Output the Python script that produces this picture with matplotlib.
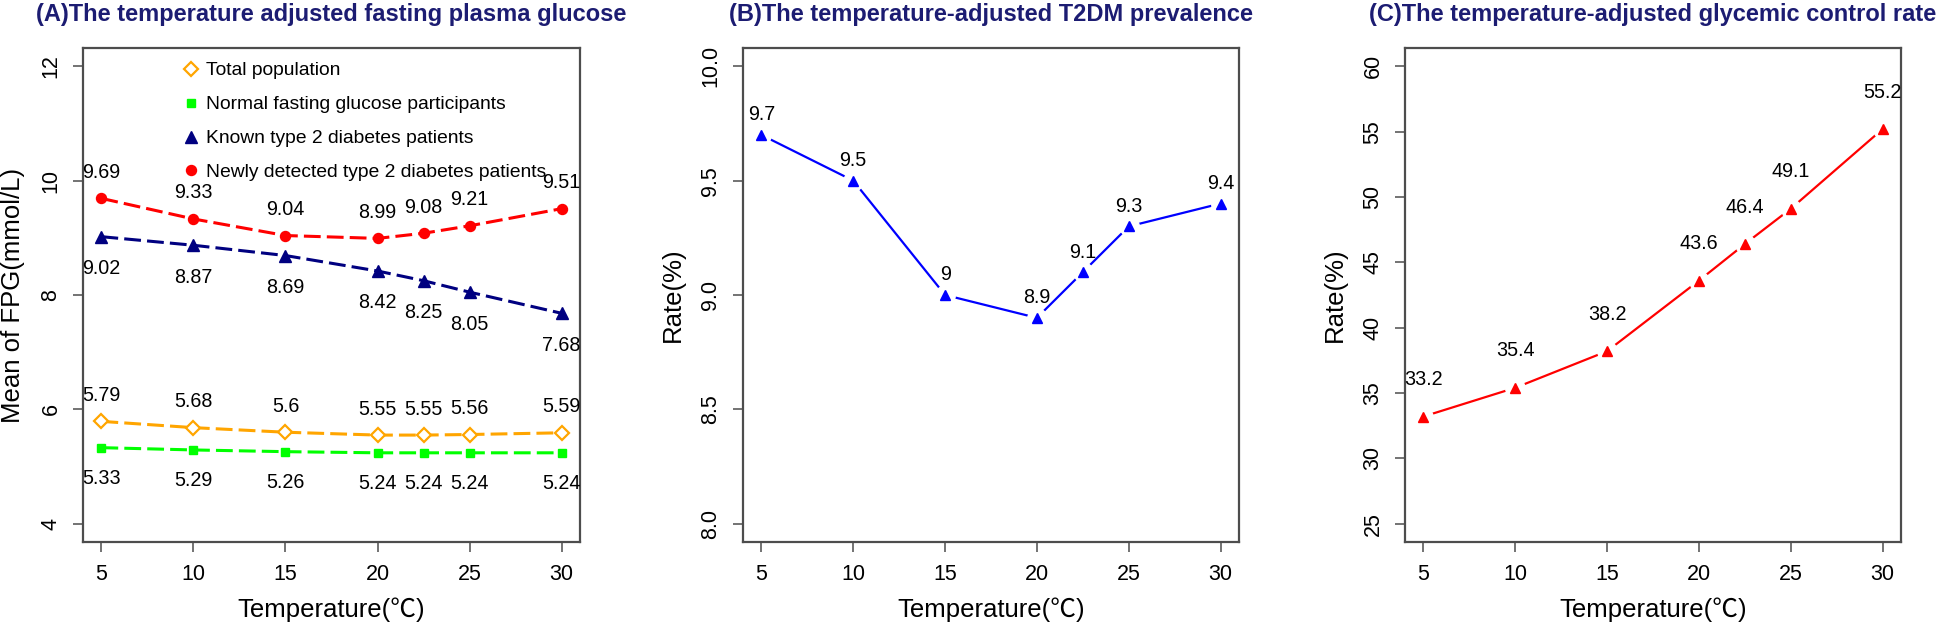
import matplotlib
matplotlib.use("Agg")
import matplotlib.pyplot as plt
from matplotlib.lines import Line2D

plt.rcParams['font.family'] = ['Liberation Sans', 'DejaVu Sans']

# ---------------- data ----------------
temps = [5, 10, 15, 20, 22.5, 25, 30]
total_pop = [5.79, 5.68, 5.6, 5.55, 5.55, 5.56, 5.59]
normal_fg = [5.33, 5.29, 5.26, 5.24, 5.24, 5.24, 5.24]
known_t2d = [9.02, 8.87, 8.69, 8.42, 8.25, 8.05, 7.68]
newly_t2d = [9.69, 9.33, 9.04, 8.99, 9.08, 9.21, 9.51]
prevalence = [9.7, 9.5, 9.0, 8.9, 9.1, 9.3, 9.4]
prevalence_labels = ["9.7", "9.5", "9", "8.9", "9.1", "9.3", "9.4"]
control_rate = [33.2, 35.4, 38.2, 43.6, 46.4, 49.1, 55.2]
control_labels = ["33.2", "35.4", "38.2", "43.6", "46.4", "49.1", "55.2"]

xticks = [5, 10, 15, 20, 25, 30]
yticks_a = [4, 6, 8, 10, 12]
yticks_b = [8.0, 8.5, 9.0, 9.5, 10.0]
yticks_c = [25, 30, 35, 40, 45, 50, 55, 60]

titles = ["(A)The temperature adjusted fasting plasma glucose",
          "(B)The temperature-adjusted T2DM prevalence",
          "(C)The temperature-adjusted glycemic control rate"]
legend_labels = ["Total population", "Normal fasting glucose participants",
                 "Known type 2 diabetes patients", "Newly detected type 2 diabetes patients"]

# ---------------- figure ----------------
W, H = 1946, 625
fig = plt.figure(figsize=(W / 100, H / 100), dpi=100)

def px_axes(left, top, right, bottom):
    return fig.add_axes([left / W, 1 - bottom / H, (right - left) / W, (bottom - top) / H])

axA = px_axes(83, 48, 580, 542)
axB = px_axes(743, 48, 1239, 542)
axC = px_axes(1405, 48, 1901, 542)

TITLE_COL = "#1c1c72"
SPINE_COL = "#4d4d4d"

def style(ax, ylabel, yticks, ylim, yfmt=None):
    ax.set_xlim(4, 31)
    ax.set_ylim(*ylim)
    ax.set_xticks(xticks)
    ax.set_yticks(yticks)
    if yfmt:
        ax.set_yticklabels([yfmt.format(v) for v in yticks])
    for s in ax.spines.values():
        s.set_color(SPINE_COL)
        s.set_linewidth(1.6)
    ax.tick_params(axis='both', direction='out', length=7.5, width=1.1,
                   color=SPINE_COL, labelsize=15.5, pad=8)
    for lab in ax.get_yticklabels():
        lab.set_rotation(90)
        lab.set_va('center')
    ax.set_xlabel("Temperature(℃)", fontsize=18.5,
                  fontfamily=['Liberation Sans', 'Noto Sans CJK SC'])
    ax.set_ylabel(ylabel, fontsize=18.5)
    ax.xaxis.set_label_coords(0.5, -0.137)
    ax.yaxis.set_label_coords(-0.141, 0.5)
    ax.xaxis.label.set_va('center')
    ax.yaxis.label.set_va('center')

# ---------------- panel A ----------------
lw_a = 2.2
series = [
    (total_pop, "#FFA500", "D", dict(mfc="white", mec="#FFA500", mew=1.6, ms=6.8), 26),
    (normal_fg, "#00FF00", "s", dict(mfc="#00FF00", mec="#00FF00", ms=6.3), -31),
    (known_t2d, "#000080", "^", dict(mfc="#000080", mec="#000080", ms=8), -32),
    (newly_t2d, "#FF0000", "o", dict(mfc="#FF0000", mec="#FF0000", ms=7.2), 26),
]
for vals, col, mk, mkw, off in series:
    axA.plot(temps, vals, color=col, lw=lw_a, ls=(0, (5.5, 2)), marker=mk, zorder=3, **mkw)
    for x, v in zip(temps, vals):
        axA.annotate(f"{v:g}", (x, v), xytext=(0, off), textcoords='offset pixels',
                     ha='center', va='center', fontsize=14.2, color='black',
                     annotation_clip=False, clip_on=True, zorder=5)

style(axA, "Mean of FPG(mmol/L)", yticks_a, (3.68, 12.32))

handles = []
for vals, col, mk, mkw, off in series:
    handles.append(Line2D([], [], ls='none', marker=mk, color=col, **mkw))
axA.legend(handles, legend_labels, loc='upper left', bbox_to_anchor=(0.170, 1.0),
           frameon=False, fontsize=13.9, handlelength=1.0, handletextpad=0.3,
           labelspacing=0.85, borderpad=0.72, borderaxespad=0.0)

# ---------------- panel B ----------------
axB.plot(temps, prevalence, color="#0000FF", lw=1.6, zorder=2)
axB.plot(temps, prevalence, ls='none', marker='o', ms=14, mfc='white', mec='white', zorder=3)
axB.plot(temps, prevalence, ls='none', marker='^', ms=7, mfc="#0000FF", mec="#0000FF", zorder=4)
for x, v, t in zip(temps, prevalence, prevalence_labels):
    axB.annotate(t, (x, v), xytext=(0, 20), textcoords='offset pixels',
                 ha='center', va='center', fontsize=14.2, zorder=5)
style(axB, "Rate(%)", yticks_b, (7.92, 10.08), yfmt="{:.1f}")

# ---------------- panel C ----------------
axC.plot(temps, control_rate, color="#FF0000", lw=1.6, zorder=2)
axC.plot(temps, control_rate, ls='none', marker='o', ms=14, mfc='white', mec='white', zorder=3)
axC.plot(temps, control_rate, ls='none', marker='^', ms=7, mfc="#FF0000", mec="#FF0000", zorder=4)
for x, v, t in zip(temps, control_rate, control_labels):
    axC.annotate(t, (x, v), xytext=(0, 37), textcoords='offset pixels',
                 ha='center', va='center', fontsize=14.2, zorder=5,
                 annotation_clip=False, clip_on=True)
style(axC, "Rate(%)", yticks_c, (23.6, 61.4))

# ---------------- titles ----------------
for ax, t in zip([axA, axB, axC], titles):
    bb = ax.get_position()
    fig.text(bb.x0 + bb.width / 2, 1 - 15 / H, t, ha='center', va='center',
             fontsize=17.0, fontweight='bold', color=TITLE_COL)

fig.savefig("out.png", dpi=100)
